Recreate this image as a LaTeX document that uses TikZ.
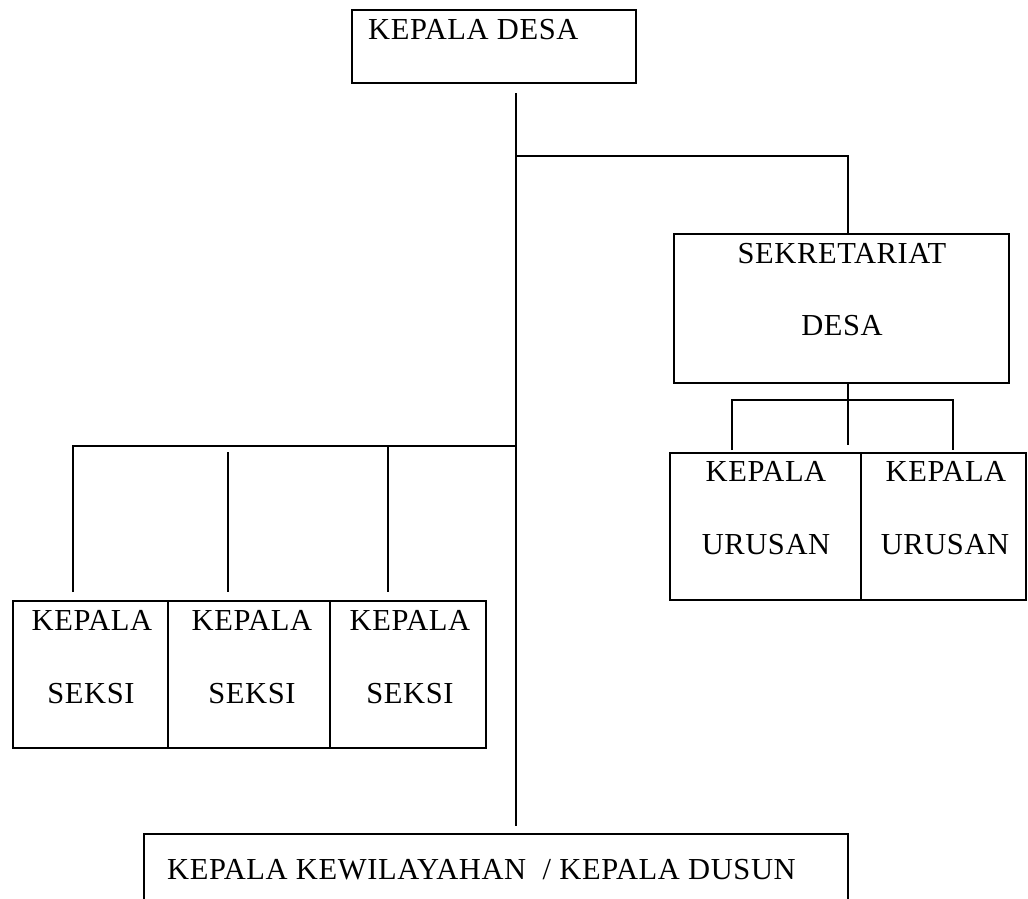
\documentclass[tikz,border=0pt]{standalone}
\usepackage{fontspec}
\setmainfont[LetterSpace=2.0]{Liberation Serif}
\begin{document}
\begin{tikzpicture}[x=1pt,y=-1pt,
  box/.style={draw=black,line width=2.4pt,rectangle,inner sep=0pt,outer sep=0pt,anchor=north west},
  conn/.style={draw=black,line width=1.8pt},
  lbl/.style={inner sep=0pt,font=\fontsize{30.5}{36}\selectfont}]
\useasboundingbox (0,0) rectangle (1028,898);
% boxes
\node[box,minimum width=284pt,minimum height=73pt] (kd) at (352,10) {};
\node[box,minimum width=335pt,minimum height=149pt] (sek) at (674,234) {};
\node[box,minimum width=191pt,minimum height=147pt] (ku1) at (670,453) {};
\node[box,minimum width=165pt,minimum height=147pt] (ku2) at (861,453) {};
\node[box,minimum width=155pt,minimum height=147pt] (ks1) at (13,601) {};
\node[box,minimum width=162pt,minimum height=147pt] (ks2) at (168,601) {};
\node[box,minimum width=156pt,minimum height=147pt] (ks3) at (330,601) {};
\node[inner sep=0pt,outer sep=0pt,minimum width=704pt,minimum height=70pt,anchor=north west] (kk) at (144,834) {};
\draw[line width=2.4pt] (kk.south west) -- (kk.north west) -- (kk.north east) -- (kk.south east);
% labels
\node[lbl,anchor=base west] (t0) at (368,39) {KEPALA DESA};
\node[lbl,anchor=base] (t1) at (842,263) {SEKRETARIAT};
\node[lbl,anchor=base] (t2) at (842,335) {DESA};
\node[lbl,anchor=base] (t3) at (766,481) {KEPALA};
\node[lbl,anchor=base] (t4) at (766,554) {URUSAN};
\node[lbl,anchor=base] (t5) at (946,481) {KEPALA};
\node[lbl,anchor=base] (t6) at (945,554) {URUSAN};
\node[lbl,anchor=base] (t7) at (92,630) {KEPALA};
\node[lbl,anchor=base] (t8) at (91,703) {SEKSI};
\node[lbl,anchor=base] (t9) at (252,630) {KEPALA};
\node[lbl,anchor=base] (t10) at (252,703) {SEKSI};
\node[lbl,anchor=base] (t11) at (410,630) {KEPALA};
\node[lbl,anchor=base] (t12) at (410,703) {SEKSI};
\node[lbl,anchor=base west] (t13) at (167,879) {KEPALA KEWILAYAHAN \ / KEPALA DUSUN};
% coordinates
\coordinate (m0) at (516,93);
\coordinate (m1) at (516,156);
\coordinate (m2) at (516,446);
\coordinate (m3) at (516,826);
\coordinate (s1) at (848,156);
\coordinate (u0) at (848,400);
\coordinate (u1) at (848,445);
\coordinate (ua) at (732,400);
\coordinate (ub) at (953,400);
\coordinate (la) at (73,446);
\coordinate (lc) at (388,446);
\coordinate (lb) at (228,452);
% connectors
\draw[conn] (m0) -- (m3);
\draw[conn] (m1) -- (s1) -- (s1 |- sek.north);
\draw[conn] (sek.south -| u1) -- (u1);
\draw[conn] (ua |- 0,450) -- (ua) -- (ub) -- (ub |- 0,450);
\draw[conn] (la |- 0,592) -- (la) -- (m2);
\draw[conn] (lc) -- (lc |- 0,592);
\draw[conn] (lb) -- (lb |- 0,592);
\end{tikzpicture}
\end{document}
